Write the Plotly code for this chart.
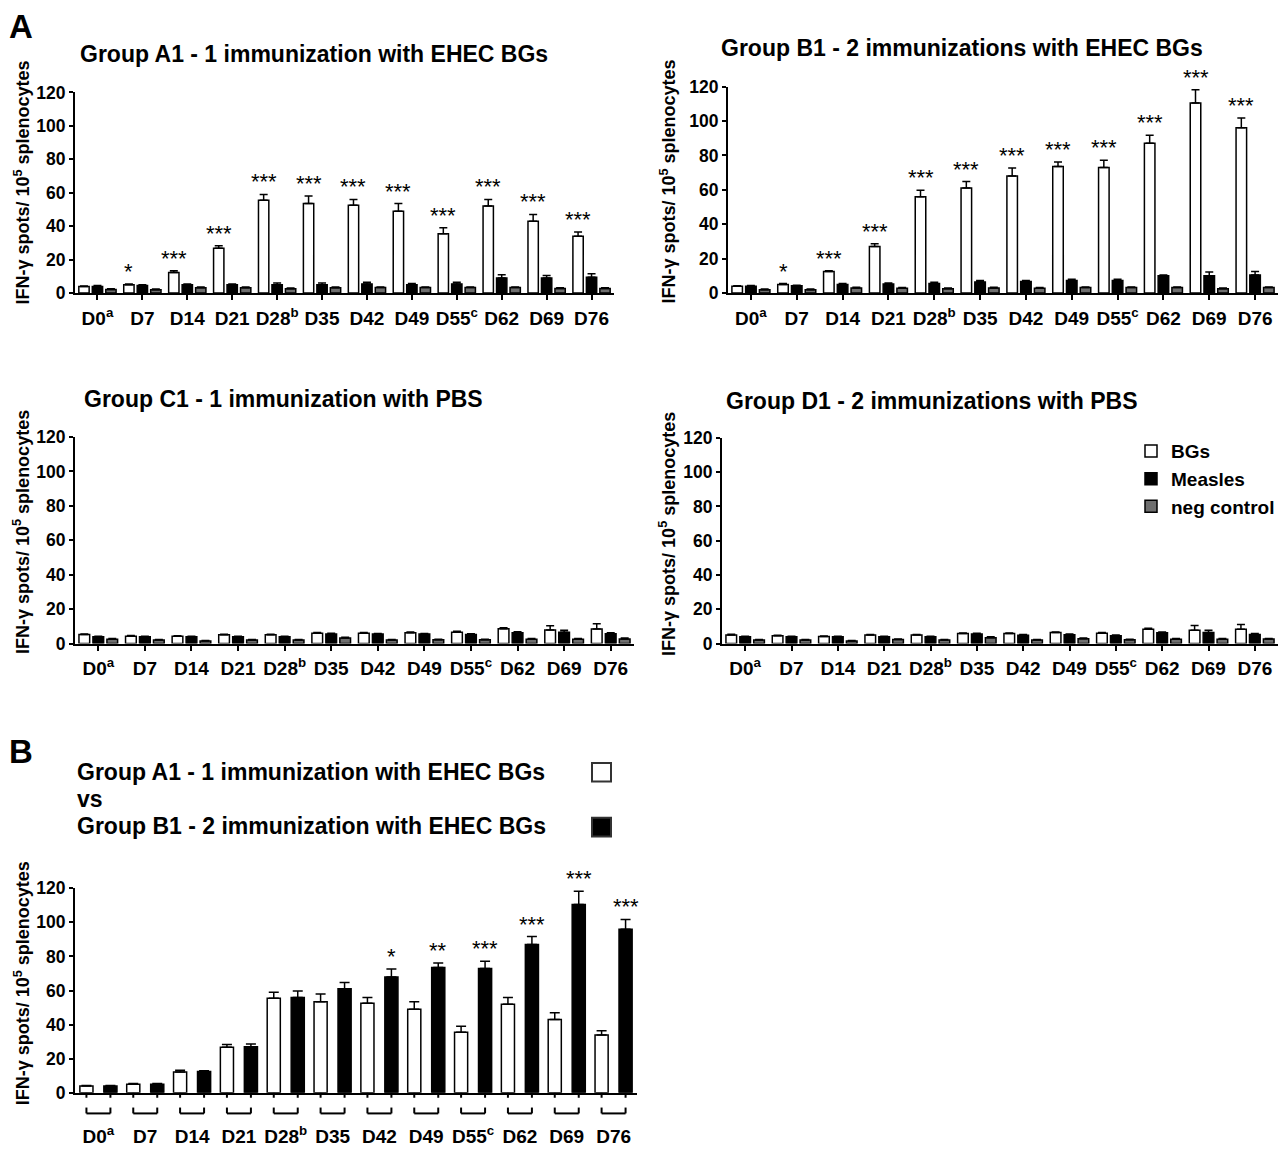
import plotly.graph_objects as go

# The page body keeps its default 8 px margin, so the figure is drawn 8 px
# in from the top-left corner of the window; size it to fit the window.
PAGE_W, PAGE_H = 1288, 1155
OFF = 8
W, H = PAGE_W - 2 * OFF, PAGE_H - 2 * OFF


def px(x):
    return (x - OFF) / W


def py(y):
    return 1 - (y - OFF) / H


# ---------------- data ----------------
days = ["D0<sup>a</sup>", "D7", "D14", "D21", "D28<sup>b</sup>", "D35",
        "D42", "D49", "D55<sup>c</sup>", "D62", "D69", "D76"]

# Group A1 - 1 immunization with EHEC BGs
a1_bgs = [4, 5, 12.3, 26.8, 55.5, 53.5, 52.5, 49, 35.5, 52, 43, 34]
a1_bgs_err = [0.3, 0.5, 1.0, 1.5, 3.5, 4.5, 3.5, 4.5, 3.5, 4, 4, 2.5]
a1_measles = [4, 4.5, 5, 5, 5, 5, 5.5, 5, 5.5, 9, 9, 9.5]
a1_measles_err = [0.5, 0.5, 0.5, 0.5, 1, 1, 1, 0.8, 1, 2, 1.5, 2]
a1_neg = [2.2, 2, 3.2, 3.2, 2.6, 3.2, 3.3, 3.3, 3.3, 3.3, 2.8, 2.8]
a1_neg_err = [0.4, 0.4, 0.4, 0.4, 0.4, 0.4, 0.4, 0.4, 0.4, 0.4, 0.4, 0.4]
a1_sig = ["", "*", "***", "***", "***", "***", "***", "***", "***", "***", "***", "***"]

# Group B1 - 2 immunizations with EHEC BGs
b1_bgs = [4, 5, 12.5, 27, 56, 61, 68, 73.5, 73, 87, 110.5, 96]
b1_bgs_err = [0.3, 0.5, 0.5, 1.7, 3.8, 3.8, 4.7, 2.6, 4.2, 4.7, 7.7, 5.7]
b1_measles = [4, 4.2, 5, 5.3, 5.5, 6.5, 6.7, 7.3, 7.3, 10, 10, 10.5]
b1_measles_err = [0.4, 0.4, 0.5, 0.6, 0.8, 0.8, 0.6, 0.8, 0.8, 0.5, 2.2, 2]
b1_neg = [2, 2, 3, 2.8, 2.5, 3, 2.8, 3.2, 3.2, 3.2, 2.5, 3.2]
b1_neg_err = [0.4, 0.4, 0.4, 0.4, 0.4, 0.4, 0.4, 0.4, 0.4, 0.4, 0.4, 0.4]
b1_sig = ["", "*", "***", "***", "***", "***", "***", "***", "***", "***", "***", "***"]

# Group C1 - 1 immunization with PBS
c1_bgs = [5.2, 4.3, 4.2, 5.1, 5.1, 6, 6, 6.2, 6.6, 8.6, 7.8, 8.5]
c1_bgs_err = [0.4, 0.3, 0.3, 0.3, 0.3, 0.4, 0.4, 0.5, 0.5, 0.6, 2.6, 3]
c1_measles = [4, 4, 4, 4, 4, 5.6, 5.5, 5.5, 5.3, 6.3, 6.5, 5.7]
c1_measles_err = [0.3, 0.3, 0.3, 0.3, 0.3, 0.4, 0.4, 0.4, 0.4, 0.5, 1.2, 0.5]
c1_neg = [2.5, 2, 1.5, 2, 2, 3.2, 2, 2.2, 2.2, 2.5, 2.5, 2.7]
c1_neg_err = [0.4, 0.3, 0.3, 0.3, 0.3, 0.5, 0.3, 0.3, 0.3, 0.4, 0.4, 0.5]

# Group D1 - 2 immunizations with PBS
d1_bgs = [5, 4.5, 4.1, 5, 5, 5.8, 5.8, 6.4, 6, 8.4, 7.8, 8.3]
d1_bgs_err = [0.4, 0.3, 0.3, 0.3, 0.3, 0.4, 0.4, 0.4, 0.4, 0.5, 2.7, 2.8]
d1_measles = [4, 4, 4, 4, 4, 5.6, 4.9, 5.2, 4.6, 6.3, 6.5, 5.3]
d1_measles_err = [0.3, 0.3, 0.3, 0.3, 0.3, 0.4, 0.4, 0.4, 0.4, 0.5, 1.2, 0.5]
d1_neg = [2, 2, 1.5, 2.3, 2, 3.4, 2, 2.8, 2.2, 2.5, 2.5, 2.6]
d1_neg_err = [0.3, 0.3, 0.3, 0.3, 0.3, 0.5, 0.3, 0.4, 0.3, 0.4, 0.4, 0.4]

# Panel B: A1 vs B1 (BGs stimulation)
comp_sig = ["", "", "", "", "", "", "*", "**", "***", "***", "***", "***"]

# ---------------- style ----------------
FONT = "Liberation Sans, Arial, Helvetica, sans-serif"
GREY = "#6e6e6e"
TITLE_SIZE = 23
YTITLE = "IFN-γ spots/ 10<sup>5</sup> splenocytes"

fig = go.Figure()

# panel geometry in page pixels: (x0, x1, y_top(=120), y_bottom(=0))
geo = {
    1: (75, 614, 84, 289),
    2: (728, 1278, 78, 289),
    3: (75, 634, 436, 647),
    4: (722, 1278, 437, 647),
    5: (75, 637, 897, 1106),
}

SLOT3 = 0.30
BW3 = 0.23


def add_three(ax, bgs, bgs_e, mea, mea_e, neg, neg_e, legend=False):
    series = [
        ("BGs", "white", bgs, bgs_e, -SLOT3),
        ("Measles", "black", mea, mea_e, 0.0),
        ("neg control", GREY, neg, neg_e, SLOT3),
    ]
    for name, fill, vals, errs, c in series:
        fig.add_trace(go.Bar(
            x=days, y=vals, name=name, legendgroup=name, showlegend=legend,
            width=BW3, offset=c - BW3 / 2,
            marker=dict(color=fill, line=dict(color="black", width=1.5)),
            error_y=dict(type="data", array=errs, arrayminus=[0] * len(errs),
                         symmetric=False, color="black", thickness=1.5, width=4),
            xaxis="x" if ax == 1 else f"x{ax}", yaxis="y" if ax == 1 else f"y{ax}",
        ))


def add_stars(ax, vals, errs, sig, xoff):
    for i, s in enumerate(sig):
        if s:
            fig.add_annotation(
                x=i + xoff, y=vals[i] + errs[i], text=s, showarrow=False,
                xref="x" if ax == 1 else f"x{ax}", yref="y" if ax == 1 else f"y{ax}",
                xanchor="center", yanchor="bottom", yshift=-2,
                font=dict(size=22, family=FONT, color="black", weight="normal"))


add_three(1, a1_bgs, a1_bgs_err, a1_measles, a1_measles_err, a1_neg, a1_neg_err, legend=True)
add_three(2, b1_bgs, b1_bgs_err, b1_measles, b1_measles_err, b1_neg, b1_neg_err)
add_three(3, c1_bgs, c1_bgs_err, c1_measles, c1_measles_err, c1_neg, c1_neg_err)
add_three(4, d1_bgs, d1_bgs_err, d1_measles, d1_measles_err, d1_neg, d1_neg_err)
add_stars(1, a1_bgs, a1_bgs_err, a1_sig, -SLOT3)
add_stars(2, b1_bgs, b1_bgs_err, b1_sig, -SLOT3)

# panel B: paired bars
HALF = 0.256
BW2 = 0.28
for name, fill, vals, errs, c in [
    ("Group A1 - 1 immunization with EHEC BGs", "white", a1_bgs, a1_bgs_err, -HALF),
    ("Group B1 - 2 immunization with EHEC BGs", "black", b1_bgs, b1_bgs_err, HALF),
]:
    fig.add_trace(go.Bar(
        x=days, y=vals, name=name, showlegend=False,
        width=BW2, offset=c - BW2 / 2,
        marker=dict(color=fill, line=dict(color="black", width=1.5)),
        error_y=dict(type="data", array=errs, arrayminus=[0] * len(errs),
                     symmetric=False, color="black", thickness=1.5, width=5),
        xaxis="x5", yaxis="y5",
    ))
add_stars(5, b1_bgs, b1_bgs_err, comp_sig, HALF)

# ---------------- axes ----------------
layout_axes = {}
for k, (x0, x1, yt, yb) in geo.items():
    sx = "" if k == 1 else str(k)
    layout_axes[f"xaxis{sx}"] = dict(
        domain=[px(x0), px(x1)], anchor=f"y{sx}", type="category",
        range=[-0.5, len(days) - 0.5], showline=True, linecolor="black", linewidth=2,
        ticks="" if k == 5 else "outside", ticklen=5, tickwidth=2, tickcolor="black",
        tickfont=dict(size=19, family=FONT, color="black", weight="bold"),
        showgrid=False, zeroline=False, fixedrange=True,
        ticklabelstandoff=25 if k == 5 else 2,
    )
    layout_axes[f"yaxis{sx}"] = dict(
        domain=[py(yb), py(yt)], anchor=f"x{sx}", range=[0, 120], dtick=20,
        showline=True, linecolor="black", linewidth=2,
        ticks="outside", ticklen=4, tickwidth=2, tickcolor="black",
        tickfont=dict(size=17.5, family=FONT, color="black", weight="bold"),
        showgrid=False, zeroline=False, fixedrange=True,
    )

fig.update_layout(**layout_axes)

# ---------------- annotations (titles) ----------------
titles = [
    ("Group A1 - 1 immunization with EHEC BGs", 78, 45),
    ("Group B1 - 2 immunizations with EHEC BGs", 719, 39),
    ("Group C1 - 1 immunization with PBS", 82, 397),
    ("Group D1 - 2 immunizations with PBS", 724, 399),
    ("Group A1 - 1 immunization with EHEC BGs", 75, 778),
    ("vs", 75, 806),
    ("Group B1 - 2 immunization with EHEC BGs", 75, 833),
]
for t, x, y in titles:
    fig.add_annotation(text=t, x=px(x), y=py(y), xref="paper", yref="paper",
                       xanchor="left", yanchor="middle", showarrow=False,
                       font=dict(size=TITLE_SIZE, family=FONT, color="black", weight="bold"))

for t, x, y in [("A", 7, 17), ("B", 7, 757)]:
    fig.add_annotation(text=t, x=px(x), y=py(y), xref="paper", yref="paper",
                       xanchor="left", yanchor="middle", showarrow=False,
                       font=dict(size=33, family=FONT, color="black", weight="bold"))

for x, y in [(22, 176), (668, 175), (22, 533), (668, 535), (22, 994)]:
    fig.add_annotation(text=YTITLE, x=px(x), y=py(y), xref="paper", yref="paper",
                       xanchor="center", yanchor="middle", textangle=-90, showarrow=False,
                       font=dict(size=18, family=FONT, color="black", weight="bold"))

# ---------------- shapes: panel B legend squares, ticks and brackets ----------------
shapes = [
    dict(type="rect", xref="paper", yref="paper", x0=px(592), x1=px(611), y0=py(788), y1=py(769),
         fillcolor="white", line=dict(color="#333333", width=2)),
    dict(type="rect", xref="paper", yref="paper", x0=px(592), x1=px(611), y0=py(844), y1=py(825),
         fillcolor="black", line=dict(color="#333333", width=2)),
]
for i in range(len(days)):
    for c in (-HALF, HALF):
        shapes.append(dict(type="line", xref="x5", yref="paper", x0=i + c, x1=i + c,
                           y0=py(1106), y1=py(1111), line=dict(color="black", width=2)))
        shapes.append(dict(type="line", xref="x5", yref="paper", x0=i + c, x1=i + c,
                           y0=py(1121), y1=py(1127), line=dict(color="black", width=2)))
    shapes.append(dict(type="line", xref="x5", yref="paper", x0=i - HALF, x1=i + HALF,
                       y0=py(1127), y1=py(1127), line=dict(color="black", width=2)))

fig.update_layout(
    width=W, height=H, autosize=False,
    margin=dict(l=0, r=0, t=0, b=0),
    paper_bgcolor="white", plot_bgcolor="white",
    font=dict(family=FONT, color="black", weight="bold"),
    barmode="group",
    shapes=shapes,
    showlegend=True,
    legend=dict(x=px(1131), y=py(431), xanchor="left", yanchor="top",
                bgcolor="rgba(0,0,0,0)", tracegroupgap=0,
                font=dict(size=19, family=FONT, color="black", weight="bold")),
)

fig.write_html("out.html")
